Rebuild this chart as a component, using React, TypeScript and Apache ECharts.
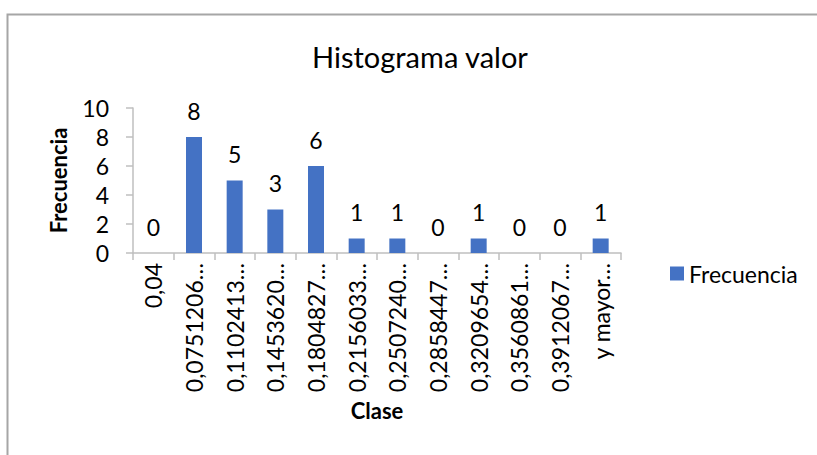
import React, { useEffect, useRef } from "react";
import * as echarts from "echarts";

const chartTitle = "Histograma valor";
const categories = [
  "0,04",
  "0,0751206…",
  "0,1102413…",
  "0,1453620…",
  "0,1804827…",
  "0,2156033…",
  "0,2507240…",
  "0,2858447…",
  "0,3209654…",
  "0,3560861…",
  "0,3912067…",
  "y mayor…",
];
const frequencies = [0, 8, 5, 3, 6, 1, 1, 0, 1, 0, 0, 1];
const seriesName = "Frecuencia";
const xAxisName = "Clase";
const yAxisName = "Frecuencia";
const yMin = 0;
const yMax = 10;
const yInterval = 2;

const FONT = "Lato, 'Open Sans', sans-serif";
const BAR = "#4472C4";
const AXIS = "#BFBFBF";

export default function App() {
  const ref = useRef<HTMLDivElement>(null);
  useEffect(() => {
    if (!ref.current) return;
    const chart = echarts.init(ref.current, null, { renderer: "svg" });
    chart.setOption({
      animation: false,
      backgroundColor: "#ffffff",
      textStyle: { fontFamily: FONT },
      graphic: [
        {
          type: "rect",
          shape: { x: 7.5, y: 14.5, width: 1000, height: 600 },
          style: { fill: "none", stroke: "#A6A6A6", lineWidth: 2 },
          silent: true,
        },
        {
          type: "text",
          x: 420,
          y: 56,
          style: {
            text: chartTitle,
            fontFamily: FONT,
            fontSize: 29,
            fill: "#000000",
            textAlign: "center",
            textVerticalAlign: "middle",
          },
        },
      ],
      legend: {
        data: [seriesName],
        left: 665,
        top: 257,
        icon: "rect",
        itemWidth: 14,
        itemHeight: 14,
        itemGap: 6,
        textStyle: { fontFamily: FONT, fontSize: 23, color: "#000000" },
      },
      grid: {
        left: 133,
        right: 196,
        top: 108,
        bottom: 202,
        outerBoundsMode: "none",
        containLabel: false,
      },
      xAxis: {
        type: "category",
        data: categories,
        name: xAxisName,
        nameLocation: "middle",
        nameGap: 146,
        nameTextStyle: {
          fontFamily: FONT,
          fontSize: 22,
          fontWeight: "bold",
          color: "#000000",
        },
        axisLine: { show: true, lineStyle: { color: AXIS, width: 1.5 } },
        axisTick: {
          show: true,
          alignWithLabel: false,
          length: 7,
          lineStyle: { color: AXIS, width: 1.5 },
        },
        axisLabel: {
          interval: 0,
          rotate: 90,
          margin: 10,
          fontFamily: FONT,
          fontSize: 23,
          color: "#000000",
        },
        splitLine: { show: false },
      },
      yAxis: {
        type: "value",
        min: yMin,
        max: yMax,
        interval: yInterval,
        name: yAxisName,
        nameLocation: "middle",
        nameGap: 64,
        nameTextStyle: {
          fontFamily: FONT,
          fontSize: 22,
          fontWeight: "bold",
          color: "#000000",
        },
        axisLine: { show: true, lineStyle: { color: AXIS, width: 1.5 } },
        axisTick: {
          show: true,
          inside: false,
          length: 7,
          lineStyle: { color: AXIS, width: 1.5 },
        },
        axisLabel: {
          margin: 24,
          fontFamily: FONT,
          fontSize: 23,
          color: "#000000",
        },
        splitLine: { show: false },
      },
      series: [
        {
          name: seriesName,
          type: "bar",
          data: frequencies,
          barWidth: 16,
          itemStyle: { color: BAR },
          label: {
            show: true,
            position: "top",
            distance: 15,
            fontFamily: FONT,
            fontSize: 23,
            color: "#000000",
          },
        },
      ],
    });
    return () => chart.dispose();
  }, []);
  return (
    <div
      ref={ref}
      style={{ position: "absolute", left: 0, top: 0, width: 817, height: 455 }}
    />
  );
}
